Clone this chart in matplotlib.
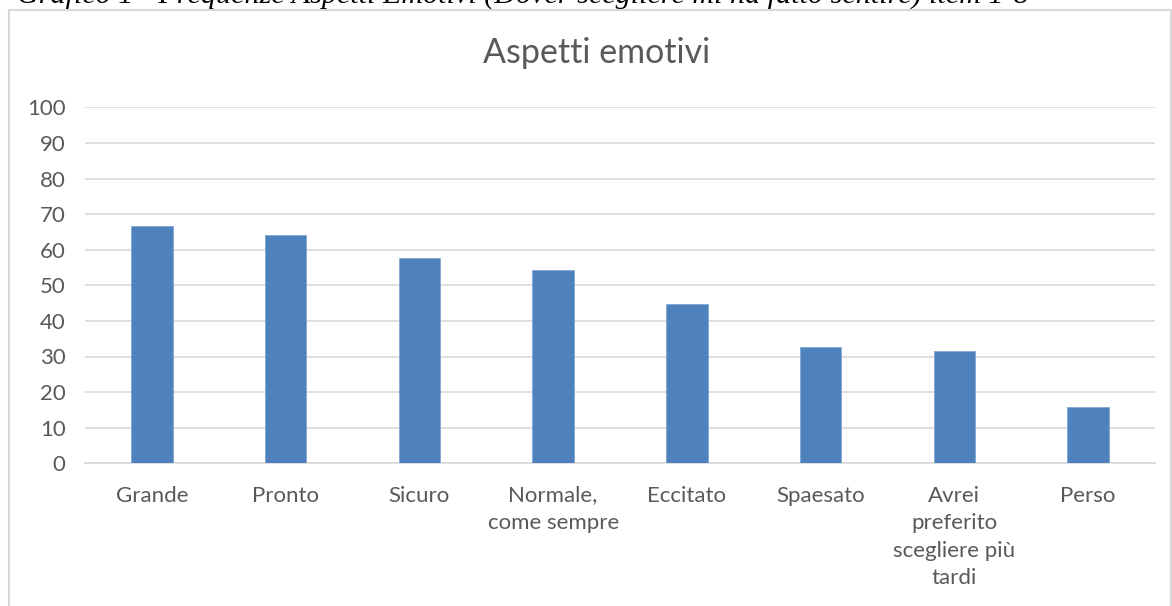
import matplotlib
matplotlib.use("Agg")
import matplotlib.pyplot as plt
from matplotlib.patches import Rectangle

categories = ["Grande", "Pronto", "Sicuro", "Normale,\ncome sempre", "Eccitato",
              "Spaesato", "Avrei\npreferito\nscegliere più\ntardi", "Perso"]
values = [66.7, 64.0, 57.6, 54.2, 44.7, 32.6, 31.5, 15.9]
yticks = [0, 10, 20, 30, 40, 50, 60, 70, 80, 90, 100]
title = "Aspetti emotivi"
caption = "Grafico 1 - Frequenze Aspetti Emotivi (Dover scegliere mi ha fatto sentire) item 1-8"

W, H = 1172, 606
DPI = 100
fig = plt.figure(figsize=(W / DPI, H / DPI), dpi=DPI)
fig.patch.set_facecolor("white")

TXT = "#595959"
FONT = ["Lato", "DejaVu Sans"]

# outer chart border
fig.patches.append(Rectangle((9.5 / W, -0.05), (1170.5 - 9.5) / W, (H - 10) / H + 0.05,
                             transform=fig.transFigure, fill=False,
                             edgecolor="#D9D9D9", linewidth=1.5))

# caption (cut off at top)
fig.text(17 / W, 1 - 4 / H, caption, ha="left", va="baseline",
         fontsize=21.7, fontstyle="italic", family=["Liberation Serif", "DejaVu Serif"],
         color="black")

# title
fig.text(597 / W, 1 - 53 / H, title, ha="center", va="center",
         fontsize=24.5, color=TXT, family=FONT)

x0, x1 = 85, 1155
y0, y1 = 463.3, 107.3
ax = fig.add_axes([x0 / W, (H - y0) / H, (x1 - x0) / W, (y0 - y1) / H])
ax.set_facecolor("none")

pos = list(range(len(categories)))
ax.bar(pos, values, width=0.31, color="#4F81BD", edgecolor="#7FA6D6", linewidth=0.6, zorder=3)

ax.set_xlim(-0.5, len(categories) - 0.5)
ax.set_ylim(0, 100)
ax.set_yticks(yticks)
ax.set_yticklabels([str(t) for t in yticks])
ax.grid(axis="y", color="#D9D9D9", linewidth=1.2, zorder=0)
ax.set_axisbelow(True)
for s in ["top", "right", "left"]:
    ax.spines[s].set_visible(False)
ax.spines["bottom"].set_color("#D9D9D9")
ax.spines["bottom"].set_linewidth(1.2)

ax.set_xticks(pos)
ax.set_xticklabels(categories, linespacing=1.47)
ax.tick_params(axis="x", length=0, pad=16, labelsize=16, labelcolor=TXT)
ax.tick_params(axis="y", length=0, pad=14, labelsize=16, labelcolor=TXT)
for lab in ax.get_xticklabels() + ax.get_yticklabels():
    lab.set_family(FONT)

fig.savefig("out.png", dpi=DPI)
